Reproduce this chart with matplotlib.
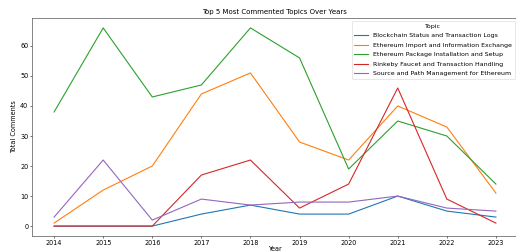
import matplotlib
matplotlib.use("Agg")
import matplotlib.pyplot as plt

years = [2014, 2015, 2016, 2017, 2018, 2019, 2020, 2021, 2022, 2023]
topics = [
    "Blockchain Status and Transaction Logs",
    "Ethereum Import and Information Exchange",
    "Ethereum Package Installation and Setup",
    "Rinkeby Faucet and Transaction Handling",
    "Source and Path Management for Ethereum",
]
blockchain = [0, 0, 0, 4, 7, 4, 4, 10, 5, 3]
import_exchange = [1, 12, 20, 44, 51, 28, 22, 40, 33, 11]
package_setup = [38, 66, 43, 47, 66, 56, 19, 35, 30, 14]
rinkeby = [0, 0, 0, 17, 22, 6, 14, 46, 9, 1]
source_path = [3, 22, 2, 9, 7, 8, 8, 10, 6, 5]
series = [blockchain, import_exchange, package_setup, rinkeby, source_path]
colors = ["#1f77b4", "#ff7f0e", "#2ca02c", "#d62728", "#9467bd"]

fig = plt.figure(figsize=(5.16, 2.52), dpi=100)
ax = fig.add_axes([32/516, 16/252, 486/516, 218/252])
for name, vals, c in zip(topics, series, colors):
    ax.plot(years, vals, color=c, lw=0.8, label=name)

fs = 4.7
ax.set_xticks(years)
ax.tick_params(labelsize=fs, width=0.4, length=1.5, pad=1.2)
for s in ax.spines.values():
    s.set_linewidth(0.5)
    s.set_color("#555555")
ax.set_title("Top 5 Most Commented Topics Over Years", fontsize=5.0, pad=3)
ax.set_xlabel("Year", fontsize=fs, labelpad=0.3)
ax.set_ylabel("Total Comments", fontsize=fs, labelpad=2)
leg = ax.legend(title="Topic", fontsize=4.5, title_fontsize=4.5, loc="upper right",
                handlelength=2.2, borderpad=0.45, labelspacing=0.65, frameon=True)
leg.get_frame().set_linewidth(0.4)
fig.savefig("out.png", dpi=100)
